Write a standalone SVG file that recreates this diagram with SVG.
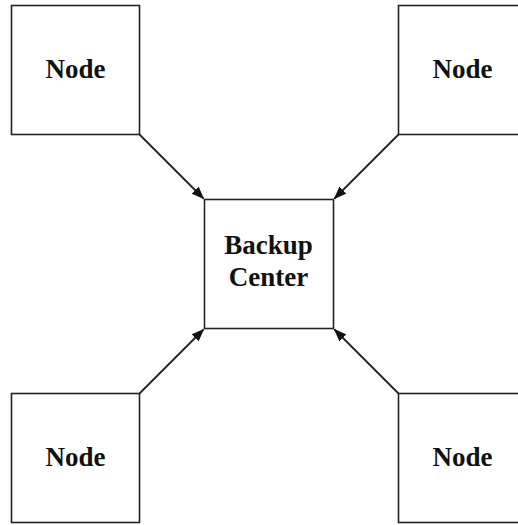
<svg xmlns="http://www.w3.org/2000/svg" width="518" height="525" viewBox="0 0 518 525">
  <defs>
    <style>
      .box { fill: #ffffff; stroke: #222222; stroke-width: 1.6; }
      .lbl { font-family: "Liberation Serif", "Times New Roman", serif; font-weight: bold; font-size: 27px; fill: #111111; text-anchor: middle; }
      .edge { stroke: #222222; stroke-width: 1.8; fill: none; marker-end: url(#arrow); }
    </style>
    <marker id="arrow" markerWidth="13" markerHeight="10" refX="12" refY="5" orient="auto" markerUnits="userSpaceOnUse">
      <path d="M0,0 L13,5 L0,10 Z" fill="#111111"/>
    </marker>
  </defs>
  <rect width="518" height="525" fill="#ffffff"/>

  <g id="connectors">
    <line class="edge" x1="139.5" y1="134.5" x2="203.5" y2="198.5"/>
    <line class="edge" x1="398.5" y1="134.5" x2="334.5" y2="198.5"/>
    <line class="edge" x1="139.5" y1="393.5" x2="203.5" y2="329.5"/>
    <line class="edge" x1="398.5" y1="393.5" x2="334.5" y2="329.5"/>
  </g>

  <g id="node-top-left">
    <rect class="box" x="11.5" y="5.5" width="128" height="129"/>
    <text class="lbl" x="75.5" y="77.5">Node</text>
  </g>

  <g id="node-top-right">
    <rect class="box" x="398.5" y="5.5" width="128" height="129"/>
    <text class="lbl" x="462.5" y="77.5">Node</text>
  </g>

  <g id="backup-center">
    <rect class="box" x="204.5" y="199.5" width="129" height="129"/>
    <text class="lbl" x="268.5" y="254">Backup</text>
    <text class="lbl" x="268.5" y="286">Center</text>
  </g>

  <g id="node-bottom-left">
    <rect class="box" x="11.5" y="393.5" width="128" height="129"/>
    <text class="lbl" x="75.5" y="465.5">Node</text>
  </g>

  <g id="node-bottom-right">
    <rect class="box" x="398.5" y="393.5" width="128" height="129"/>
    <text class="lbl" x="462.5" y="465.5">Node</text>
  </g>
</svg>
